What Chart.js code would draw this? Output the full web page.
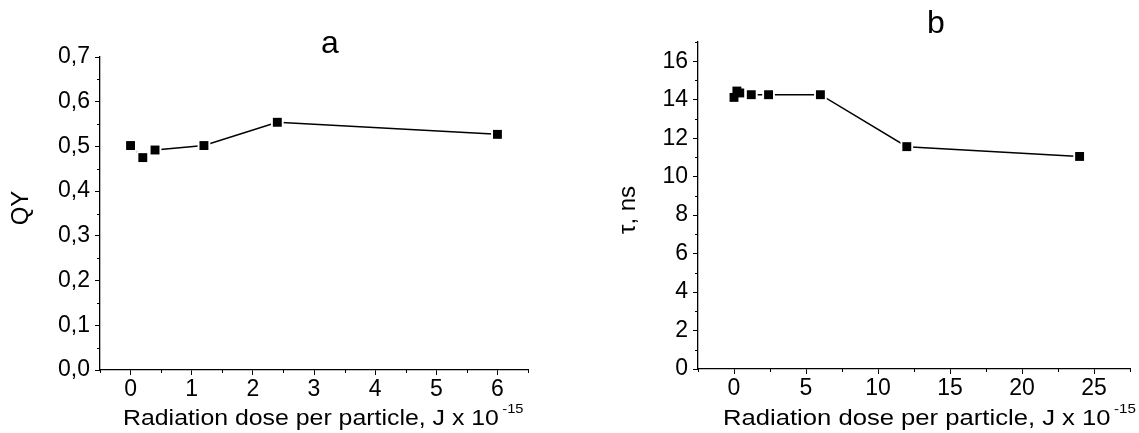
<!DOCTYPE html>
<html>
<head>
<meta charset="utf-8">
<script src="https://cdn.jsdelivr.net/npm/chart.js@4.4.1/dist/chart.umd.min.js"></script>
<style>
  html, body { margin: 0; padding: 0; background: #fff; }
  .panel { position: absolute; top: 0; height: 433px; }
  #panelA { left: 0; width: 570px; }
  #panelB { left: 570px; width: 569px; }
</style>
</head>
<body>
<div class="panel" id="panelA"><canvas id="chartA"></canvas></div>
<div class="panel" id="panelB"><canvas id="chartB"></canvas></div>
<script>
// radiation dose per particle, J x 10^-15
const doseA = [0, 0.2, 0.4, 1.2, 2.4, 6];
const qy = [0.502, 0.475, 0.492, 0.502, 0.554, 0.527];

const doseB = [0, 0.2, 0.4, 1.2, 2.4, 6, 12, 24];
const tau = [14.12, 14.45, 14.35, 14.26, 14.26, 14.26, 11.56, 11.05];

// axis ticks
const doseTicksA = [0, 1, 2, 3, 4, 5, 6];
const qyTicks = [0, 0.1, 0.2, 0.3, 0.4, 0.5, 0.6, 0.7];
const qyTickLabels = ['0,0', '0,1', '0,2', '0,3', '0,4', '0,5', '0,6', '0,7'];
const doseTicksB = [0, 5, 10, 15, 20, 25];
const tauTicks = [0, 2, 4, 6, 8, 10, 12, 14, 16];

const FONT = "'Liberation Sans', Arial, sans-serif";
Chart.defaults.font.family = FONT;
Chart.defaults.color = '#000';

function points(xs, ys) {
    return xs.map((x, i) => ({ x: x, y: ys[i] }));
}

// line under a white halo under the black squares (origin style gaps)
function series(data) {
    return [
        { data: data, showLine: true, borderColor: '#000', borderWidth: 1.5, pointRadius: 0, order: 3 },
        { data: data, showLine: false, pointStyle: 'rect', pointRadius: 9, pointBackgroundColor: '#fff',
          pointBorderColor: 'rgba(0,0,0,0)', pointBorderWidth: 0, order: 2 },
        { data: data, showLine: false, pointStyle: 'rect', pointRadius: 6.3, pointBackgroundColor: '#000',
          pointBorderColor: '#000', pointBorderWidth: 0, order: 1 }
    ];
}

function axis(min, max, ticks, labels, fit, horizontal) {
    return {
        type: 'linear', min: min, max: max,
        afterBuildTicks: (s) => { s.ticks = ticks.map((v) => ({ value: v })); },
        afterFit: (s) => { if (horizontal) s.height = fit; else s.width = fit; },
        ticks: {
            font: { size: 23 }, color: '#000', padding: horizontal ? 1 : 5,
            maxRotation: 0, autoSkip: false,
            callback: (v, i) => labels ? labels[i] : String(v)
        },
        grid: { drawOnChartArea: false, drawTicks: true, tickLength: 5, tickColor: '#000', tickWidth: 1 },
        border: { color: '#000', width: 1.3 }
    };
}

function minorOf(majors, min, max) {
    const step = majors[1] - majors[0];
    const out = [majors[0] - step / 2].concat(majors.map((v) => v + step / 2));
    return out.filter((v) => v >= min - 1e-9 && v <= max + 1e-9);
}

const minorTicks = {
    id: 'minorTicks',
    afterDraw(chart) {
        const ctx = chart.ctx;
        const x = chart.scales.x, y = chart.scales.y;
        ctx.save();
        ctx.strokeStyle = '#000';
        ctx.lineWidth = 1;
        ctx.beginPath();
        minorOf(x.ticks.map((t) => t.value), x.min, x.max).forEach((v) => {
            const px = Math.round(x.getPixelForValue(v)) + 0.5;
            ctx.moveTo(px, x.top);
            ctx.lineTo(px, x.top + 3);
        });
        minorOf(y.ticks.map((t) => t.value), y.min, y.max).forEach((v) => {
            const py = Math.round(y.getPixelForValue(v)) + 0.5;
            ctx.moveTo(y.right, py);
            ctx.lineTo(y.right - 3, py);
        });
        ctx.stroke();
        ctx.restore();
    }
};

// panel letter, axis titles (x title is a bit wide in the original, hence the stretch)
const labels = {
    id: 'labels',
    afterDraw(chart, args, o) {
        const ctx = chart.ctx;
        ctx.save();
        ctx.fillStyle = '#000';
        ctx.textBaseline = 'alphabetic';

        ctx.font = '32px ' + FONT;
        ctx.textAlign = 'center';
        ctx.fillText(o.title, o.titleX, o.titleY);

        ctx.save();
        ctx.translate(o.xTitleX, o.xTitleY);
        ctx.scale(o.stretch, 1);
        ctx.font = '22px ' + FONT;
        ctx.textAlign = 'left';
        const main = 'Radiation dose per particle, J x 10';
        ctx.fillText(main, 0, 0);
        const w = ctx.measureText(main).width;
        ctx.font = '13px ' + FONT;
        ctx.fillText('-15', w + 3, -12);
        ctx.restore();

        ctx.save();
        ctx.translate(o.yTitleX, o.yTitleY);
        ctx.rotate(-Math.PI / 2);
        ctx.font = '24px ' + FONT;
        ctx.textAlign = 'center';
        ctx.textBaseline = 'middle';
        ctx.fillText(o.yTitle, 0, 0);
        ctx.restore();

        ctx.restore();
    }
};

new Chart(document.getElementById('chartA'), {
    type: 'scatter',
    data: { datasets: series(points(doseA, qy)) },
    options: {
        responsive: true, maintainAspectRatio: false, animation: false,
        layout: { padding: { top: 57, right: 42, bottom: 0, left: 0 } },
        scales: {
            x: axis(-0.5, 6.5, doseTicksA, null, 63, true),
            y: axis(0, 0.7, qyTicks, qyTickLabels, 100, false)
        },
        plugins: {
            legend: { display: false }, tooltip: { enabled: false },
            labels: { title: 'a', titleX: 330, titleY: 53, xTitleX: 123, xTitleY: 425, stretch: 1.13,
                      yTitle: 'QY', yTitleX: 21, yTitleY: 208 }
        }
    },
    plugins: [minorTicks, labels]
});

new Chart(document.getElementById('chartB'), {
    type: 'scatter',
    data: { datasets: series(points(doseB, tau)) },
    options: {
        responsive: true, maintainAspectRatio: false, animation: false,
        layout: { padding: { top: 42, right: 1, bottom: 0, left: 0 } },
        scales: {
            x: axis(-2.5, 27.5, doseTicksB, null, 64, true),
            y: axis(0, 17, tauTicks, null, 128, false)
        },
        plugins: {
            legend: { display: false }, tooltip: { enabled: false },
            labels: { title: 'b', titleX: 366, titleY: 33, xTitleX: 153, xTitleY: 425, stretch: 1.165,
                      yTitle: 'τ, ns', yTitleX: 58, yTitleY: 210 }
        }
    },
    plugins: [minorTicks, labels]
});
</script>
</body>
</html>
